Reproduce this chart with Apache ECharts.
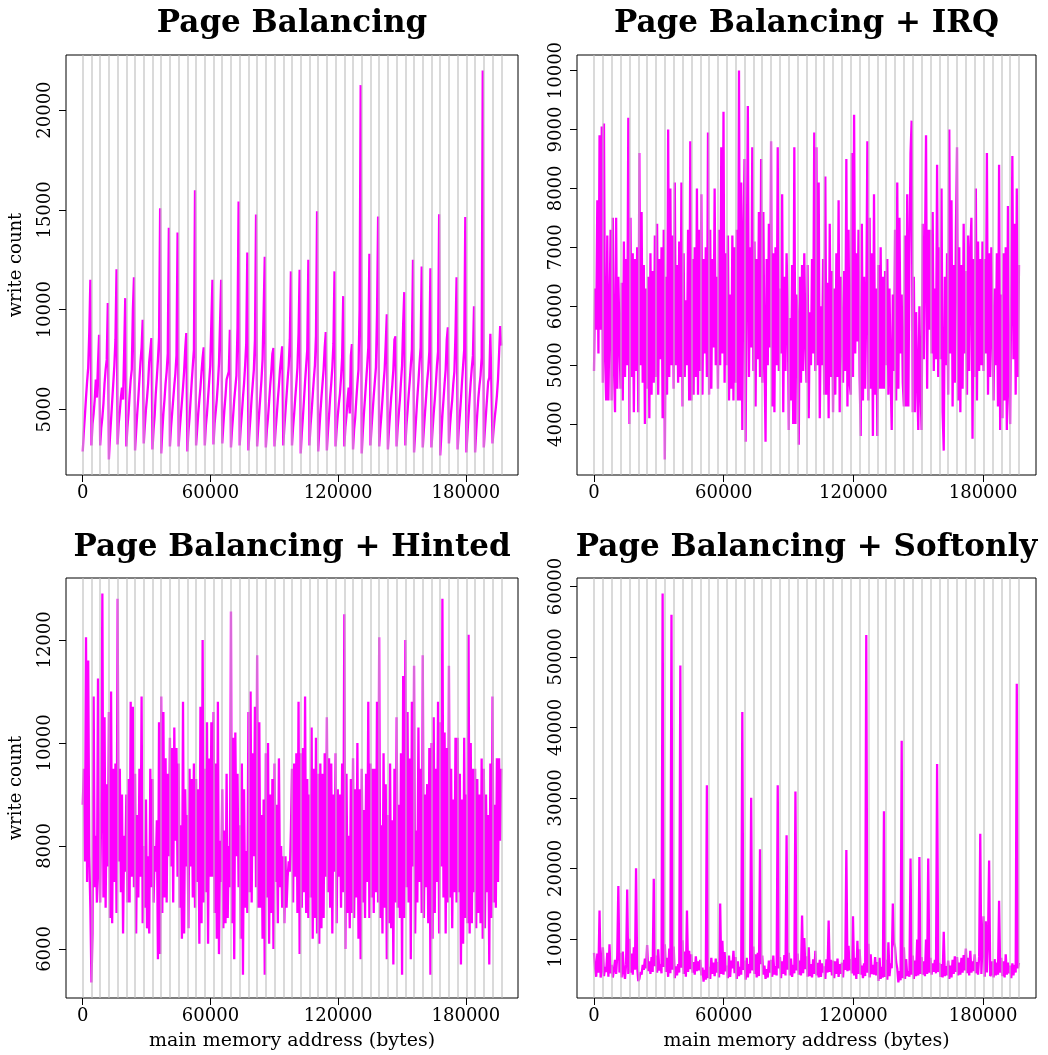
<!DOCTYPE html>
<html>
<head>
<meta charset="utf-8">
<script src="https://cdn.jsdelivr.net/npm/echarts@6/dist/echarts.min.js"></script>
<style>
  html, body { margin: 0; padding: 0; background: #ffffff; }
  #chart { width: 1048px; height: 1055px; }
</style>
</head>
<body>
<div id="chart"></div>
<script>
// Sampling of main memory: one write-count sample every 512 bytes, pages of 4096 bytes.
const sampleStep = 512;
const pageSize = 4096;
const addressEnd = 196608;

const panelTitles = [
  'Page Balancing',
  'Page Balancing + IRQ',
  'Page Balancing + Hinted',
  'Page Balancing + Softonly'
];

const xTicks = [0, 60000, 120000, 180000];
const yTicksBalancing = [5000, 10000, 15000, 20000];
const yTicksIrq = [4000, 5000, 6000, 7000, 8000, 9000, 10000];
const yTicksHinted = [6000, 8000, 10000, 12000];
const yTicksSoftonly = [10000, 20000, 30000, 40000, 50000, 60000];

const yAxisTitle = 'write count';
const xAxisTitle = 'main memory address (bytes)';

// write counts, 8 samples per page
const writesBalancing = [
  2900, 3900, 4700, 5600, 6400, 7100, 8900, 11500,
  3200, 4300, 4800, 5500, 6500, 5600, 7300, 8750,
  3200, 4100, 4600, 5300, 6300, 7000, 7500, 10330,
  2500, 3600, 4500, 5400, 6300, 7200, 8500, 12030,
  3250, 4300, 4900, 5600, 6100, 5500, 7900, 10580,
  3150, 4100, 4800, 5700, 6500, 7000, 10000, 11630,
  2950, 3900, 4800, 5600, 6500, 7400, 8100, 9500,
  3300, 4200, 5000, 5600, 6300, 7400, 7500, 8580,
  3000, 4000, 4700, 5800, 6600, 7500, 8600, 15080,
  2800, 3900, 4800, 5500, 6300, 6900, 7800, 14100,
  3150, 4100, 4800, 5500, 6200, 6800, 7700, 13870,
  3150, 4000, 4700, 5400, 6100, 6900, 8000, 8830,
  2900, 3900, 4600, 5500, 6400, 7200, 8000, 15980,
  3200, 4000, 4800, 5500, 6100, 6900, 7600, 8120,
  3200, 4200, 4800, 5600, 6400, 7200, 9400, 11500,
  3250, 4300, 4900, 5500, 6300, 7300, 7400, 11500,
  3300, 4200, 5000, 5700, 6500, 6600, 6900, 9000,
  3100, 4000, 4700, 5500, 6100, 6700, 9100, 15420,
  3200, 4100, 4800, 5600, 6300, 7200, 8300, 12870,
  2950, 3900, 4700, 5600, 6300, 7000, 8500, 14770,
  3150, 4100, 4900, 5700, 6500, 7500, 10000, 12650,
  3100, 4000, 4600, 5400, 6200, 6900, 7800, 8080,
  3150, 4000, 4700, 5500, 6200, 7000, 7600, 8170,
  3200, 4100, 4900, 5700, 6500, 7200, 8500, 11920,
  3200, 4100, 4800, 5600, 6300, 7100, 8800, 12000,
  2800, 3800, 4600, 5500, 6400, 7200, 8000, 12500,
  3200, 4200, 4900, 5700, 6500, 7200, 8700, 14930,
  2900, 3900, 4800, 5600, 6300, 7000, 8100, 8880,
  2950, 3900, 4700, 5600, 6300, 7100, 8300, 11920,
  3150, 4000, 4700, 5300, 5800, 6600, 7600, 10680,
  3150, 4100, 4700, 5500, 6100, 4800, 7700, 8280,
  3000, 4000, 4600, 5500, 6300, 7000, 10000, 21250,
  2800, 3900, 4800, 5600, 6400, 7200, 8100, 12800,
  3200, 4100, 4900, 5700, 6400, 7100, 9800, 14670,
  3150, 4000, 4700, 5500, 6300, 7000, 8300, 9770,
  3000, 4000, 4800, 5600, 6200, 7000, 8500, 8670,
  3150, 4100, 4800, 5500, 6400, 7200, 9300, 10880,
  3200, 4200, 4900, 5700, 6400, 7200, 8000, 12500,
  2850, 3800, 4700, 5600, 6400, 7300, 8100, 12170,
  3100, 4000, 4800, 5600, 6400, 7000, 7900, 12080,
  3100, 4000, 4800, 5500, 6300, 7200, 7900, 14780,
  2700, 3700, 4700, 5500, 6300, 7000, 8500, 9120,
  3300, 4200, 4900, 5500, 6300, 6900, 8800, 11620,
  3000, 4000, 4700, 5500, 6400, 7200, 8000, 14650,
  2850, 3800, 4700, 5600, 6400, 7100, 7700, 10170,
  2850, 3900, 4800, 5600, 6200, 6700, 7600, 21980,
  3100, 4000, 4800, 5600, 6400, 6600, 8800, 8830,
  3300, 4000, 4600, 5100, 5700, 6500, 7800, 9180,
  8200
];

const writesIrq = [
  4900, 6300, 5600, 7800, 5200, 8900, 5600, 9050,
  4700, 9100, 5200, 4400, 7200, 4400, 5800, 7300,
  4400, 7500, 5000, 4200, 7500, 4600, 6500, 5500,
  4600, 6400, 4400, 7100, 4800, 6800, 5000, 9200,
  4000, 7500, 4800, 6900, 4200, 6800, 4900, 7000,
  4200, 8600, 5000, 7600, 4700, 6700, 4000, 6300,
  4600, 6500, 4100, 6900, 4500, 6600, 4700, 7200,
  4800, 7400, 4500, 6800, 5100, 7000, 4100, 7300,
  3400, 6500, 4500, 9000, 4800, 8000, 5000, 7200,
  4600, 8100, 5000, 6700, 4700, 7100, 4800, 8100,
  4300, 6900, 4800, 6100, 5000, 7300, 4400, 8800,
  4400, 6800, 4500, 7000, 4800, 8000, 4500, 7300,
  4900, 7900, 4500, 6800, 5200, 7000, 4800, 8950,
  4500, 7300, 4600, 6800, 5300, 8000, 5000, 6500,
  4600, 7300, 5000, 8700, 5200, 9300, 4700, 6900,
  5000, 7200, 4400, 6200, 4600, 7200, 4400, 7000,
  4700, 7300, 4400, 10000, 4400, 8100, 3900, 7100,
  8500, 3700, 6600, 9400, 4800, 7000, 5300, 8700,
  4900, 7100, 4300, 6800, 5100, 7600, 4800, 8500,
  4700, 7600, 5200, 3700, 6800, 5000, 7400, 5300,
  8800, 4300, 6900, 4200, 7000, 5000, 8700, 4900,
  6300, 5200, 7900, 4200, 6500, 4900, 6900, 6000,
  3900, 5800, 4400, 6700, 4000, 8700, 4000, 6200,
  5800, 3650, 6500, 4700, 6700, 4900, 6900, 5500,
  4700, 6700, 4100, 5900, 5000, 6800, 5200, 8950,
  4900, 8700, 5000, 8100, 4100, 6000, 5000, 6800,
  4500, 8200, 4500, 6400, 4100, 7400, 4800, 6600,
  4200, 6300, 4500, 6900, 4800, 7800, 4200, 6500,
  6500, 4700, 6600, 4900, 8500, 4300, 7300, 4700,
  4500, 8600, 4800, 9250, 5200, 6900, 5400, 7300,
  4800, 3800, 7400, 4400, 6500, 4600, 6000, 8800,
  4400, 7500, 4600, 6900, 3800, 7900, 4500, 6300,
  3800, 6700, 4600, 7000, 4600, 6500, 4600, 6600,
  5000, 6800, 4500, 6300, 4800, 3900, 6200, 4900,
  7300, 4400, 8100, 4600, 7500, 5200, 6200, 4700,
  4300, 7200, 4300, 7900, 4300, 6800, 8600, 9150,
  4200, 6500, 4200, 5900, 4800, 3900, 6000, 4600,
  3900, 7400, 5100, 6800, 8900, 4600, 7300, 5600,
  7300, 5200, 7600, 4900, 6300, 5100, 8400, 4800,
  7000, 5100, 8000, 4200, 3550, 6500, 5000, 6900,
  4500, 9000, 5200, 7800, 4300, 6700, 4700, 7300,
  8700, 4400, 7000, 4200, 6700, 4600, 7400, 5200,
  6600, 4500, 7200, 4900, 6900, 7500, 3750, 6800,
  4800, 8000, 4400, 7100, 4900, 6800, 5000, 7100,
  4900, 6800, 5200, 8600, 4500, 6900, 4800, 7000,
  7000, 4400, 6300, 5000, 6900, 4300, 8400, 3900,
  6200, 4100, 6900, 4400, 7000, 3900, 7700, 4600,
  4000, 6300, 8550, 5100, 7400, 4500, 8000, 4800,
  6700
];

const writesHinted = [
  8800, 9500, 7700, 12050, 7300, 11600, 7800, 6800,
  5350, 6300, 10900, 7200, 8200, 6900, 11250, 7500,
  6900, 9000, 12900, 7000, 10500, 6800, 9200, 7600,
  10600, 6600, 11000, 6500, 9500, 7300, 9600, 6700,
  12800, 7700, 9500, 7100, 9000, 6300, 8200, 7500,
  9000, 6900, 9300, 6900, 10800, 7400, 10700, 7200,
  9400, 6300, 8600, 7000, 9500, 7400, 10900, 6500,
  8000, 6800, 8900, 6400, 7800, 6300, 9500, 7200,
  9300, 6900, 8000, 7500, 8500, 5800, 10400, 5900,
  10900, 6700, 10600, 7000, 9700, 6900, 9400, 7800,
  10100, 7600, 9900, 6900, 10300, 8100, 9900, 7400,
  9600, 6800, 8400, 6200, 10800, 6300, 9100, 7600,
  8600, 6400, 9500, 7600, 9300, 7000, 9600, 6800,
  9300, 7300, 9100, 6100, 10700, 6500, 12000, 6900,
  9500, 7100, 10400, 6100, 9700, 7400, 10400, 7400,
  10600, 6700, 9600, 6200, 10800, 5900, 8100, 7300,
  9100, 6400, 8300, 6500, 9400, 6600, 8000, 7200,
  12550, 6500, 10100, 5800, 10200, 7800, 9400, 7200,
  8400, 6200, 9600, 5500, 9100, 6800, 7900, 6700,
  10600, 7100, 11000, 6900, 9800, 7800, 10700, 7200,
  11700, 6800, 10400, 6800, 8600, 6200, 8900, 5500,
  9800, 7000, 10000, 6100, 9000, 6700, 9300, 6000,
  9600, 7300, 8800, 6500, 9700, 7200, 8000, 6800,
  7800, 6500, 7800, 6800, 7400, 7700, 7500, 8300,
  9500, 6900, 9600, 7400, 9800, 6700, 10800, 5900,
  9800, 6800, 9900, 7100, 10900, 6700, 9300, 6600,
  9000, 7000, 10300, 6200, 9500, 6600, 10100, 6300,
  9400, 6100, 9600, 6400, 9400, 6600, 9800, 7400,
  10500, 7100, 9700, 6800, 9600, 6300, 9000, 7500,
  9800, 6500, 9100, 7400, 9000, 6800, 9600, 7100,
  12500, 6000, 9400, 6700, 8200, 6400, 9300, 6700,
  9700, 6600, 9100, 7000, 10000, 6200, 9100, 5800,
  9500, 6900, 8700, 6600, 9400, 7300, 10800, 6600,
  9600, 7000, 9500, 6700, 9500, 7100, 10800, 6900,
  12050, 6600, 8400, 6300, 9800, 6800, 9200, 5800,
  8600, 6500, 9600, 6400, 8500, 5700, 9500, 6900,
  10500, 6800, 8800, 6600, 9800, 5500, 11300, 6600,
  12000, 7200, 10600, 6900, 9700, 5800, 10800, 7600,
  11500, 6300, 8300, 6900, 10300, 7300, 9500, 6700,
  11700, 6600, 9000, 7200, 9200, 6500, 9900, 5500,
  10000, 6200, 10500, 6700, 9500, 7300, 10800, 6300,
  10400, 7600, 12800, 7000, 10200, 6300, 9900, 6900,
  11500, 7000, 9500, 6400, 8900, 7100, 10100, 6900,
  10100, 7100, 9400, 5700, 8900, 6100, 10100, 6600,
  9000, 6500, 12100, 6300, 10000, 6500, 9500, 7100,
  9500, 6400, 9300, 6700, 9000, 6500, 9700, 6200,
  9500, 6400, 9000, 7100, 8600, 5700, 9600, 6600,
  10900, 6900, 8800, 6800, 9700, 7300, 9700, 8100,
  9500
];

const writesSoftonly = [
  8000, 5800, 4600, 7900, 5200, 14000, 4500, 5600,
  8800, 4700, 6000, 5300, 8000, 4600, 9200, 5100,
  6300, 4500, 5600, 7000, 5000, 7600, 17500, 5200,
  8000, 4500, 8200, 5300, 4300, 6400, 17000, 5000,
  10000, 5200, 7900, 4900, 8800, 5600, 20000, 6000,
  4000, 4300, 5300, 4900, 6300, 5600, 7200, 5800,
  9100, 5400, 6800, 5000, 7400, 5300, 18500, 6100,
  7600, 5200, 8500, 5500, 6400, 5100, 59000, 6000,
  9200, 5300, 7300, 4600, 8600, 5100, 56000, 5600,
  8900, 4400, 6100, 4800, 6400, 5200, 48800, 5900,
  9800, 5000, 8200, 4600, 14000, 5300, 8300, 5700,
  7800, 5200, 6700, 4900, 7500, 5400, 6800, 5500,
  7000, 4800, 5900, 3900, 5600, 4200, 31800, 4400,
  6000, 4300, 7300, 5000, 6600, 4700, 7200, 5200,
  6700, 4500, 15000, 5000, 9700, 4900, 8100, 5400,
  6200, 4400, 7600, 4600, 6900, 5800, 8300, 5100,
  7400, 4300, 6800, 4700, 6000, 4900, 42200, 5600,
  6900, 4200, 7300, 4500, 6400, 5100, 30000, 5500,
  8900, 5000, 7800, 4500, 8000, 4700, 22700, 6400,
  7600, 4900, 6200, 4300, 5700, 4500, 6900, 5200,
  7000, 4600, 7600, 4900, 6100, 4800, 31800, 5800,
  7400, 4400, 6800, 5000, 7700, 4800, 24700, 5600,
  8000, 4800, 7200, 4600, 6300, 5100, 30900, 5500,
  7900, 4900, 6900, 4800, 13300, 5100, 10100, 5700,
  7500, 4600, 8800, 4700, 6400, 4500, 7100, 5000,
  8300, 4800, 6600, 4500, 7000, 4600, 6500, 5200,
  6100, 4300, 7100, 5200, 12600, 5300, 7000, 4800,
  6900, 4400, 6800, 5000, 7200, 4600, 6400, 5000,
  6600, 4500, 7000, 5600, 22600, 5400, 9000, 5500,
  7100, 5100, 13200, 4800, 7300, 4300, 9700, 5000,
  8500, 4900, 6200, 4400, 6500, 4700, 53100, 5200,
  9300, 4500, 7800, 5000, 6300, 4900, 7400, 4800,
  6700, 4000, 7300, 4300, 6000, 4500, 28100, 4600,
  7000, 4200, 9500, 4700, 6500, 5800, 15000, 9500,
  8800, 6700, 5800, 3800, 5400, 4100, 38100, 4400,
  8800, 4300, 7100, 4700, 5400, 4600, 21400, 4900,
  7600, 4300, 6900, 4700, 9900, 4800, 21600, 5000,
  7400, 4900, 6800, 4700, 9900, 5000, 21400, 5200,
  7300, 4900, 6500, 5300, 7000, 5100, 34800, 5300,
  6600, 4600, 6400, 4500, 11000, 4700, 6100, 4800,
  6900, 4300, 6200, 4500, 7000, 5000, 7500, 5300,
  7400, 4800, 6600, 4900, 7300, 5200, 7700, 5500,
  8600, 5100, 7300, 4800, 8300, 5200, 6800, 5400,
  7800, 5100, 6700, 4900, 7500, 24900, 5000, 5100,
  13200, 4600, 12500, 5200, 10000, 21100, 4700, 5000,
  6800, 4500, 7100, 4800, 6600, 4900, 15400, 5200,
  7300, 4700, 6800, 4500, 7800, 4900, 6600, 5100,
  6200, 4400, 6500, 4800, 6300, 5200, 46200, 5800,
  6600
];

const panelWrites = [writesBalancing, writesIrq, writesHinted, writesSoftonly];
const panelYTicks = [yTicksBalancing, yTicksIrq, yTicksHinted, yTicksSoftonly];

// plot boxes of the 2x2 layout
const panelBoxes = [
  { left: 66, top: 55, width: 452, height: 420 },
  { left: 577, top: 55, width: 459, height: 420 },
  { left: 66, top: 578, width: 452, height: 420 },
  { left: 577, top: 578, width: 459, height: 420 }
];

const serif = '"DejaVu Serif", "Liberation Serif", serif';
const lineColor = '#ff00ff';
const pageLineColor = '#bebebe';

// page boundary addresses
const pageBoundaries = [];
for (let a = 0; a <= addressEnd; a += pageSize) pageBoundaries.push(a);

const option = {
  animation: false,
  backgroundColor: '#ffffff',
  grid: [],
  xAxis: [],
  yAxis: [],
  series: [],
  graphic: []
};

panelWrites.forEach((writes, k) => {
  const box = panelBoxes[k];
  const points = writes.map((v, i) => [i * sampleStep, v]);
  const lo = Math.min(...writes), hi = Math.max(...writes);
  const yPad = (hi - lo) * 0.04;
  const xPad = addressEnd * 0.04;
  const bottomRow = k >= 2;
  const leftCol = k % 2 === 0;

  option.grid.push(Object.assign({
    show: true, borderColor: '#000000', borderWidth: 1,
    backgroundColor: 'transparent', containLabel: false
  }, box));

  option.xAxis.push({
    type: 'value', gridIndex: k,
    min: -xPad, max: addressEnd + xPad,
    axisLine: { show: false, onZero: false },
    splitLine: { show: false },
    axisTick: { show: true, inside: false, length: 7, customValues: xTicks,
      lineStyle: { color: '#000000', width: 1 } },
    axisLabel: { show: true, customValues: xTicks, margin: 9,
      fontFamily: serif, fontSize: 18, color: '#000000',
      formatter: v => String(Math.round(v)) },
    name: bottomRow ? xAxisTitle : '',
    nameLocation: 'middle', nameGap: 34,
    nameTextStyle: { fontFamily: serif, fontSize: 19, color: '#000000' }
  });

  option.yAxis.push({
    type: 'value', gridIndex: k,
    min: lo - yPad, max: hi + yPad,
    axisLine: { show: false, onZero: false },
    splitLine: { show: false },
    axisTick: { show: true, inside: false, length: 7, customValues: panelYTicks[k],
      lineStyle: { color: '#000000', width: 1 } },
    axisLabel: { show: true, customValues: panelYTicks[k], rotate: 90, margin: 12,
      fontFamily: serif, fontSize: 18, color: '#000000',
      formatter: v => String(Math.round(v)) },
    name: leftCol ? yAxisTitle : '',
    nameLocation: 'middle', nameGap: 41, nameRotate: 90,
    nameTextStyle: { fontFamily: serif, fontSize: 18, color: '#000000' }
  });

  option.series.push({
    type: 'line', xAxisIndex: k, yAxisIndex: k,
    data: points, showSymbol: false, symbol: 'none',
    sampling: null, z: 2,
    lineStyle: { color: lineColor, width: 2.3 }
  });

  // page boundaries drawn over the trace
  option.series.push({
    type: 'line', xAxisIndex: k, yAxisIndex: k, data: [], z: 3,
    markLine: {
      silent: true, symbol: ['none', 'none'], label: { show: false },
      animation: false,
      lineStyle: { color: pageLineColor, width: 1.6, type: 'solid', opacity: 0.7 },
      data: pageBoundaries.map(a => ({ xAxis: a }))
    }
  });

  option.graphic.push({
    type: 'text', silent: true,
    x: box.left + box.width / 2,
    y: bottomRow ? 548 : 24,
    style: {
      text: panelTitles[k], fill: '#000000',
      font: 'bold 31px ' + serif,
      textAlign: 'center', textVerticalAlign: 'middle',
      align: 'center', verticalAlign: 'middle'
    }
  });
});

const chart = echarts.init(document.getElementById('chart'), null, { renderer: 'canvas' });
chart.setOption(option);
</script>
</body>
</html>
